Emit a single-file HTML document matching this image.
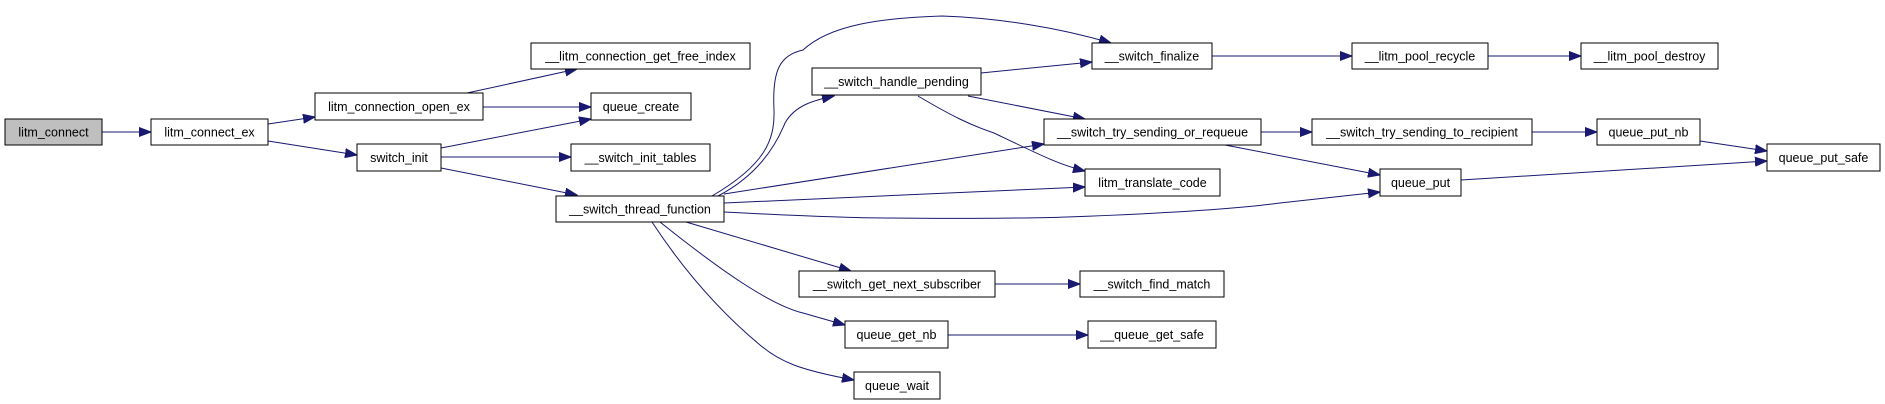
<!DOCTYPE html>
<html><head><meta charset="utf-8"><style>
body{margin:0;background:#fff;}
svg{display:block;}
text{font-family:"Liberation Sans",sans-serif;font-size:12.5px;fill:#000;}
rect{fill:#fff;stroke:#000;stroke-width:1;}
path.e{fill:none;stroke:#191970;stroke-width:1;}
</style></head><body>
<svg width="1885" height="404" viewBox="0 0 1885 404" xmlns="http://www.w3.org/2000/svg">
<defs><marker id="a" markerUnits="userSpaceOnUse" markerWidth="13" markerHeight="10" refX="12" refY="5" orient="auto"><path d="M0,0.5 L12,5 L0,9.5 z" fill="#191970" stroke="#191970"/></marker></defs>
<g marker-end="url(#a)">
<path class="e" d="M102,132 L151,132"/>
<path class="e" d="M268,124 L315,117"/>
<path class="e" d="M268,141 L357,155"/>
<path class="e" d="M467,93 L577,69"/>
<path class="e" d="M483,107 L591,107"/>
<path class="e" d="M441,148 L591,119"/>
<path class="e" d="M441,157 L571,157"/>
<path class="e" d="M441,168 L577,195"/>
<path class="e" d="M718,196 C745,182 770,160 785,123 C795,105 815,100 834,96"/>
<path class="e" d="M712,196 C765,165 775,140 774,110 C772,70 780,55 803,50 C830,25 880,18 942,16 C1000,18 1060,28 1111,43"/>
<path class="e" d="M724,194 L1044,144"/>
<path class="e" d="M724,203 L1085,187"/>
<path class="e" d="M724,212 C800,216 850,218 885,218 C960,219 1040,218 1067,217 C1150,214 1230,210 1280,203 L1380,192"/>
<path class="e" d="M686,222 L851,271"/>
<path class="e" d="M660,222 C720,270 770,305 803,313 L845,325"/>
<path class="e" d="M652,222 C690,280 730,320 760,345 C780,362 800,370 854,380"/>
<path class="e" d="M981,73 L1092,62"/>
<path class="e" d="M968,96 L1085,119"/>
<path class="e" d="M918,96 C950,115 970,125 994,133 C1040,155 1060,165 1085,171"/>
<path class="e" d="M1212,56 L1352,56"/>
<path class="e" d="M1488,56 L1581,56"/>
<path class="e" d="M1261,132 L1312,132"/>
<path class="e" d="M1225,145 L1380,175"/>
<path class="e" d="M1532,132 L1597,132"/>
<path class="e" d="M1700,141 L1767,151"/>
<path class="e" d="M1461,180 L1767,161"/>
<path class="e" d="M995,284 L1080,284"/>
<path class="e" d="M948,335 L1088,335"/>
</g>
<g text-anchor="middle">
<rect x="5" y="119" width="97" height="26" style="fill:#bfbfbf"/><text x="53.5" y="136.5">litm_connect</text>
<rect x="151" y="119" width="117" height="26"/><text x="209.5" y="136.5">litm_connect_ex</text>
<rect x="315" y="93" width="168" height="27"/><text x="399" y="111">litm_connection_open_ex</text>
<rect x="531" y="43" width="219" height="26"/><text x="640.5" y="60.5">__litm_connection_get_free_index</text>
<rect x="591" y="93" width="100" height="27"/><text x="641" y="111">queue_create</text>
<rect x="357" y="144" width="84" height="27"/><text x="399" y="162">switch_init</text>
<rect x="571" y="144" width="139" height="27"/><text x="640.5" y="162">__switch_init_tables</text>
<rect x="556" y="196" width="168" height="26"/><text x="640" y="213.5">__switch_thread_function</text>
<rect x="812" y="68" width="169" height="27"/><text x="896.5" y="86">__switch_handle_pending</text>
<rect x="1092" y="43" width="120" height="26"/><text x="1152" y="60.5">__switch_finalize</text>
<rect x="1352" y="43" width="136" height="26"/><text x="1420" y="60.5">__litm_pool_recycle</text>
<rect x="1581" y="43" width="137" height="26"/><text x="1649.5" y="60.5">__litm_pool_destroy</text>
<rect x="1044" y="119" width="217" height="26"/><text x="1152.5" y="136.5">__switch_try_sending_or_requeue</text>
<rect x="1312" y="119" width="220" height="26"/><text x="1422" y="136.5">__switch_try_sending_to_recipient</text>
<rect x="1597" y="119" width="103" height="26"/><text x="1648.5" y="136.5">queue_put_nb</text>
<rect x="1767" y="144" width="113" height="27"/><text x="1823.5" y="162">queue_put_safe</text>
<rect x="1085" y="169" width="135" height="27"/><text x="1152.5" y="187">litm_translate_code</text>
<rect x="1380" y="169" width="81" height="27"/><text x="1420.5" y="187">queue_put</text>
<rect x="799" y="271" width="196" height="26"/><text x="897" y="288.5">__switch_get_next_subscriber</text>
<rect x="1080" y="271" width="144" height="26"/><text x="1152" y="288.5">__switch_find_match</text>
<rect x="845" y="321" width="103" height="27"/><text x="896.5" y="339">queue_get_nb</text>
<rect x="1088" y="321" width="128" height="27"/><text x="1152" y="339">__queue_get_safe</text>
<rect x="854" y="372" width="86" height="27"/><text x="897" y="390">queue_wait</text>
</g>
</svg>
</body></html>
